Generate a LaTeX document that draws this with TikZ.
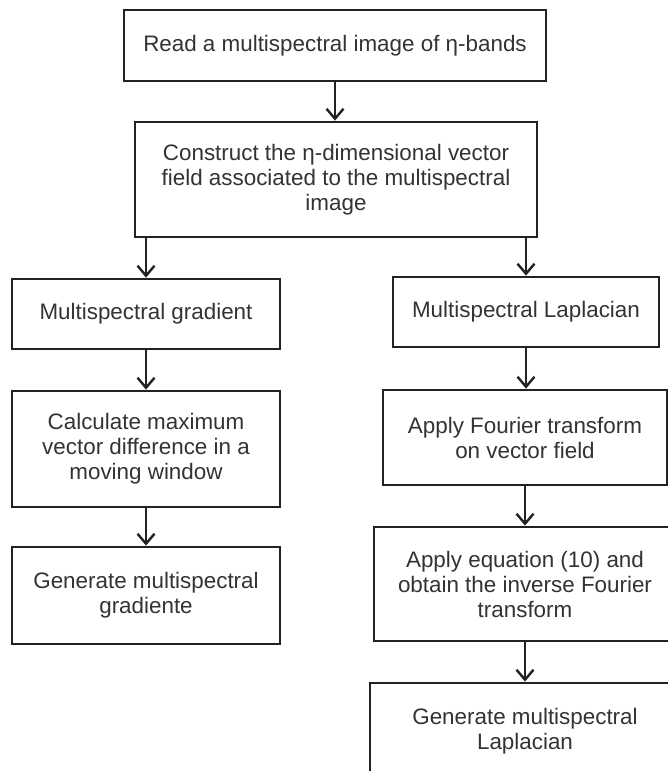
\documentclass[tikz,border=0pt]{standalone}
\usepackage{fontspec}
\setmainfont{Liberation Sans}
\usetikzlibrary{arrows.meta}
\definecolor{linec}{HTML}{222222}
\definecolor{textc}{HTML}{333333}
\tikzset{
  boxnode/.style={draw=linec, line width=2.8pt, rectangle, inner sep=0pt,
    align=center, text=textc, font=\fontsize{22.4}{25}\selectfont},
  arr/.style={draw=linec, line width=2.4pt,
    -{Straight Barb[length=10pt,width=17pt,line width=2.4pt]}}
}
\begin{document}
\begin{tikzpicture}[x=1pt,y=-1pt]
\useasboundingbox (0,0) rectangle (668,771);
\clip (0,0) rectangle (668,771);
\fill[white] (0,0) rectangle (668,771);
\node[boxnode, minimum width=422pt, minimum height=71pt] (b1) at (335,45.5)
  {Read a multispectral image of η-bands};
\node[boxnode, minimum width=402pt, minimum height=115pt] (b2) at (336,179.5)
  {Construct the η-dimensional vector\\field associated to the multispectral\\image};
\node[boxnode, minimum width=268pt, minimum height=70pt] (l1) at (146,314)
  {Multispectral gradient};
\node[boxnode, minimum width=268pt, minimum height=116pt] (l2) at (146,449)
  {Calculate maximum\\vector difference in a\\moving window};
\node[boxnode, minimum width=268pt, minimum height=97pt] (l3) at (146,595.5)
  {Generate multispectral\\gradiente};
\node[boxnode, minimum width=266pt, minimum height=70pt] (r1) at (526,312)
  {Multispectral Laplacian};
\node[boxnode, minimum width=284pt, minimum height=95pt] (r2) at (525,437.5)
  {Apply Fourier transform\\on vector field};
\node[boxnode, minimum width=302pt, minimum height=114pt] (r3) at (525,584)
  {Apply equation (10) and\\obtain the inverse Fourier\\transform};
\node[boxnode, minimum width=310pt, minimum height=96pt] (r4) at (525,731)
  {Generate multispectral\\Laplacian};
\draw[arr] (b1.south) -- (b1.south |- b2.north);
\draw[arr] (l1.north |- b2.south) -- (l1.north);
\draw[arr] (r1.north |- b2.south) -- (r1.north);
\draw[arr] (l1.south) -- (l2.north);
\draw[arr] (l2.south) -- (l3.north);
\draw[arr] (r1.south) -- (r1.south |- r2.north);
\draw[arr] (r2.south) -- (r2.south |- r3.north);
\draw[arr] (r3.south) -- (r3.south |- r4.north);
\end{tikzpicture}
\end{document}
